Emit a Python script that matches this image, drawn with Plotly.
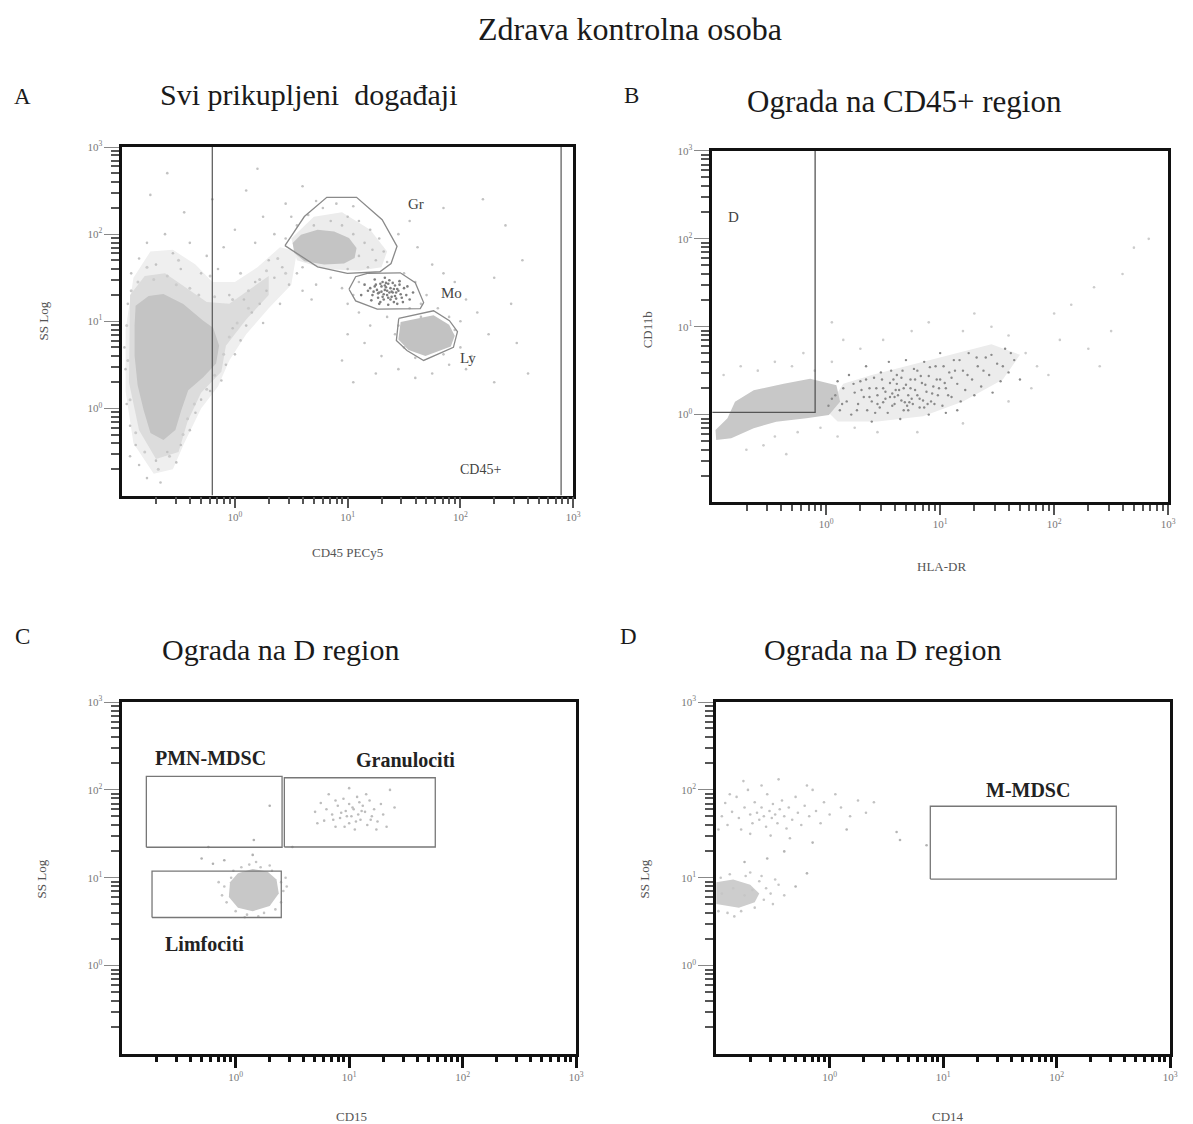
import plotly.graph_objects as go

W, H = 1193, 1124
SERIF = "Liberation Serif"

# ---------------------------------------------------------------- data (log10 units)
# Panel A: CD45 PECy5 vs SS Log, all collected events
a_debris_core = [(-0.881, 1.177), (-0.766, 1.291), (-0.634, 1.313), (-0.458, 1.199), (-0.281, 1.006),
                 (-0.193, 0.926), (-0.140, 0.721), (-0.167, 0.516), (-0.281, 0.356), (-0.414, 0.208),
                 (-0.475, -0.020), (-0.528, -0.248), (-0.634, -0.362), (-0.749, -0.282), (-0.810, -0.020),
                 (-0.863, 0.265), (-0.890, 0.607), (-0.890, 0.949)]
a_debris_mid = [(-0.93, 1.30), (-0.80, 1.52), (-0.62, 1.55), (-0.45, 1.40), (-0.25, 1.22), (-0.05, 1.20),
                (0.15, 1.38), (0.30, 1.52), (0.30, 1.30), (0.10, 1.02), (-0.08, 0.72), (-0.12, 0.42),
                (-0.30, 0.18), (-0.42, -0.15), (-0.50, -0.50), (-0.70, -0.58), (-0.85, -0.25),
                (-0.94, 0.30)]
a_debris_halo = [(-0.72, -0.75), (-0.90, -0.40), (-0.97, 0.20), (-0.97, 0.90), (-0.90, 1.50), (-0.75, 1.80),
                 (-0.55, 1.82), (-0.35, 1.65), (-0.20, 1.45), (0.00, 1.45), (0.20, 1.62), (0.40, 1.85),
                 (0.55, 1.80), (0.50, 1.42), (0.30, 1.15), (0.10, 0.85), (-0.05, 0.55), (-0.15, 0.25),
                 (-0.30, 0.00), (-0.45, -0.40), (-0.55, -0.70)]
a_gr_core = [(0.512, 1.898), (0.586, 1.994), (0.733, 2.051), (0.880, 2.031), (1.012, 1.955), (1.079, 1.841),
             (1.062, 1.727), (0.968, 1.663), (0.792, 1.652), (0.616, 1.689), (0.527, 1.784)]
a_gr_halo = [(0.50, 1.95), (0.70, 2.20), (0.95, 2.25), (1.20, 2.05), (1.35, 1.80), (1.30, 1.62),
             (1.10, 1.58), (0.80, 1.60), (0.55, 1.70)]
a_ly_core = [(1.470, 0.990), (1.762, 1.070), (1.900, 0.960), (1.950, 0.835), (1.915, 0.710),
             (1.690, 0.600), (1.540, 0.670), (1.450, 0.790)]
a_mo_events = [(1.20, 1.38), (1.25, 1.42), (1.28, 1.33), (1.30, 1.40), (1.33, 1.36), (1.35, 1.30), (1.38, 1.38),
               (1.40, 1.33), (1.42, 1.41), (1.45, 1.35), (1.22, 1.30), (1.27, 1.27), (1.31, 1.45), (1.36, 1.43),
               (1.39, 1.28), (1.43, 1.26), (1.47, 1.31), (1.50, 1.38), (1.18, 1.35), (1.24, 1.48), (1.29, 1.22),
               (1.34, 1.39), (1.37, 1.47), (1.41, 1.22), (1.46, 1.42), (1.52, 1.30), (1.55, 1.25), (1.15, 1.42),
               (1.26, 1.36), (1.32, 1.31), (1.38, 1.25), (1.44, 1.37), (1.49, 1.22), (1.30, 1.34), (1.35, 1.35),
               (1.40, 1.44), (1.28, 1.20), (1.33, 1.50), (1.42, 1.29), (1.58, 1.33), (1.12, 1.30), (1.21, 1.24),
               (1.36, 1.19), (1.46, 1.46), (1.53, 1.40), (1.31, 1.28), (1.39, 1.34), (1.24, 1.40), (1.44, 1.20),
               (1.34, 1.44), (1.27, 1.32), (1.32, 1.25), (1.37, 1.33), (1.41, 1.37), (1.29, 1.43), (1.36, 1.27),
               (1.43, 1.33), (1.23, 1.34), (1.48, 1.27), (1.33, 1.41)]
a_halo_events = [(-0.92, 1.35), (-0.86, 1.45), (-0.72, 1.48), (-0.60, 1.52), (-0.52, 1.42), (-0.40, 1.38),
                 (-0.32, 1.30), (-0.18, 1.28), (-0.02, 1.25), (0.12, 1.35), (0.22, 1.48), (0.38, 1.72),
                 (0.45, 1.55), (0.12, 1.15), (0.02, 0.98), (-0.05, 0.82), (-0.10, 0.62), (-0.18, 0.38),
                 (-0.25, 0.22), (-0.36, 0.05), (-0.42, -0.12), (-0.46, -0.30), (-0.58, -0.55), (-0.68, -0.70),
                 (-0.80, -0.50), (-0.88, -0.28), (-0.93, 0.10), (-0.95, 0.55), (-0.96, 0.95), (-0.78, 1.62),
                 (-0.50, 1.70), (-0.22, 1.52), (0.05, 1.55), (0.28, 1.58)]
a_sparse_events = [
    (-0.93, -0.55), (-0.85, -0.65), (-0.78, -0.80), (-0.70, -0.60), (-0.66, -0.85), (-0.60, -0.50),
    (-0.52, -0.62), (-0.48, -0.42), (-0.40, -0.25), (-0.35, -0.05), (-0.30, 0.10), (-0.22, 0.20),
    (-0.12, 0.32), (-0.08, 0.50), (0.00, 0.62), (0.05, 0.78), (-0.02, 0.92), (0.10, 0.95), (0.15, 1.10),
    (0.08, 1.25), (0.22, 1.20), (0.28, 1.35), (0.18, 1.45), (0.35, 1.50), (0.42, 1.62), (0.30, 1.70),
    (0.48, 1.42), (0.55, 1.55), (0.60, 1.35), (0.72, 1.42), (0.85, 1.50), (0.95, 1.38), (0.68, 1.25),
    (0.40, 1.20), (0.25, 0.98),
    (-0.95, 1.20), (-0.92, 1.55), (-0.85, 1.72), (-0.78, 1.90), (-0.70, 1.65), (-0.62, 2.00), (-0.55, 1.78),
    (-0.48, 1.60), (-0.40, 1.90), (-0.30, 1.55), (-0.25, 1.75), (-0.15, 1.60), (-0.10, 1.85), (-0.05, 1.30),
    (0.00, 2.05), (-0.45, 2.25), (-0.75, 2.45), (-0.20, 2.40), (0.10, 2.50), (0.25, 2.20), (0.18, 1.90),
    (0.35, 2.00), (0.45, 2.35), (0.60, 2.55), (-0.60, 2.70), (0.20, 2.75),
    (-0.97, 0.45), (-0.96, 0.05), (-0.93, -0.20), (-0.98, 0.70), (-0.88, -0.42),
    (1.45, 2.00), (1.55, 2.15), (1.62, 1.85), (1.75, 1.65), (1.85, 1.55), (1.95, 1.45), (2.05, 1.25),
    (2.15, 1.10), (2.00, 1.00), (2.25, 0.85), (2.10, 0.60), (1.50, 1.55), (1.70, 1.30), (1.80, 1.15),
    (1.65, 1.05), (1.35, 1.05), (1.20, 0.95), (1.10, 1.10), (1.00, 0.85), (1.15, 0.75), (1.30, 0.60),
    (1.25, 0.40), (1.45, 0.45), (1.60, 0.35), (1.75, 0.40), (1.90, 0.50), (2.05, 0.45), (2.30, 1.50),
    (2.45, 1.20), (2.55, 1.70), (2.40, 2.10), (1.85, 2.30), (2.20, 2.40), (0.95, 0.55), (1.05, 0.30),
    (2.30, 0.30), (2.50, 0.75), (2.60, 0.40),
    (0.55, 2.10), (0.65, 2.22), (0.78, 2.30), (0.90, 2.35), (1.00, 2.20), (1.10, 2.15), (1.20, 2.05),
    (1.28, 1.95), (1.32, 1.80), (1.25, 1.70), (1.18, 1.62), (1.15, 1.90), (1.05, 2.00), (0.95, 2.10),
    (0.85, 2.15), (0.70, 2.10), (1.35, 1.68), (1.22, 1.82), (1.10, 1.75), (0.60, 1.62), (1.00, 1.60),
    (0.45, 1.95), (0.50, 2.20), (0.72, 2.38), (1.05, 2.32),
    (1.05, 1.30), (1.10, 1.45), (1.60, 1.45), (1.65, 1.20), (1.55, 1.15), (1.00, 1.20),
    (1.45, 0.95), (1.50, 0.70), (1.85, 0.62), (1.95, 0.90), (1.90, 1.05), (1.60, 0.58), (2.00, 0.70),
    (1.42, 0.85)]
a_cd45_gate = [0.63, 782.0]           # vertical thresholds (linear units)
a_gr_gate = [(0.444, 1.868), (0.616, 2.202), (0.815, 2.422), (1.079, 2.422), (1.306, 2.165), (1.438, 1.860),
             (1.385, 1.663), (1.286, 1.568), (0.997, 1.549), (0.733, 1.624)]
a_mo_gate = [(1.012, 1.367), (1.071, 1.511), (1.174, 1.549), (1.467, 1.556), (1.600, 1.442), (1.674, 1.214),
             (1.644, 1.146), (1.262, 1.139), (1.071, 1.234)]
a_ly_gate = [(1.453, 1.032), (1.762, 1.120), (1.903, 1.006), (1.974, 0.880), (1.938, 0.701), (1.674, 0.550),
             (1.526, 0.664), (1.432, 0.778)]

# Panel B: HLA-DR vs CD11b, CD45+ events
b_low_core = [(-0.800, 0.145), (-0.636, 0.277), (-0.372, 0.352), (-0.141, 0.409), (0.090, 0.333),
              (0.122, 0.145), (0.024, -0.006), (-0.174, -0.043), (-0.438, -0.081), (-0.636, -0.156),
              (-0.833, -0.269), (-0.965, -0.288), (-0.971, -0.175), (-0.866, -0.043)]
b_band = [(0.00, 0.05), (0.15, 0.35), (0.40, 0.45), (0.70, 0.55), (1.10, 0.68), (1.45, 0.80), (1.70, 0.68),
          (1.55, 0.40), (1.20, 0.15), (0.85, -0.02), (0.45, -0.08), (0.10, -0.08)]
b_dark_events = [
    (0.02, 0.10), (0.08, 0.22), (0.12, 0.05), (0.15, 0.30), (0.18, 0.15), (0.22, 0.00), (0.25, 0.25),
    (0.28, 0.12), (0.30, 0.38), (0.33, 0.20), (0.36, 0.05), (0.38, 0.30), (0.40, 0.15), (0.42, 0.42),
    (0.45, 0.22), (0.47, 0.08), (0.50, 0.30), (0.52, 0.18), (0.54, 0.02), (0.56, 0.36), (0.58, 0.24),
    (0.60, 0.12), (0.62, 0.45), (0.64, 0.28), (0.66, 0.16), (0.68, 0.05), (0.70, 0.34), (0.72, 0.22),
    (0.74, 0.40), (0.76, 0.12), (0.78, 0.28), (0.80, 0.50), (0.82, 0.18), (0.84, 0.36), (0.86, 0.08),
    (0.88, 0.26), (0.90, 0.44), (0.92, 0.15), (0.94, 0.32), (0.96, 0.55), (0.98, 0.22), (1.00, 0.40),
    (1.02, 0.10), (1.05, 0.30), (1.08, 0.48), (1.10, 0.20), (1.12, 0.62), (1.15, 0.35), (1.18, 0.15),
    (1.20, 0.50), (1.22, 0.28), (1.25, 0.70), (1.28, 0.40), (1.30, 0.22), (1.33, 0.55), (1.36, 0.32),
    (1.40, 0.65), (1.43, 0.45), (1.46, 0.25), (1.50, 0.58), (1.53, 0.38), (1.57, 0.75), (1.60, 0.48),
    (1.65, 0.62), (1.70, 0.40), (0.55, 0.60), (0.70, 0.62), (0.35, 0.55), (0.20, 0.45), (0.10, 0.38),
    (0.48, 0.48), (0.86, 0.60), (1.00, 0.70), (0.65, -0.05), (0.90, 0.00), (0.40, -0.08), (1.15, 0.05),
    (0.60, 0.20), (0.75, 0.18), (0.52, 0.26), (0.68, 0.30), (0.82, 0.08), (0.45, 0.12), (0.58, 0.10),
    (0.72, 0.05), (0.95, 0.12), (0.62, 0.35), (0.78, 0.40), (0.50, 0.14), (0.56, 0.20), (0.63, 0.22),
    (0.69, 0.14), (0.74, 0.30), (0.80, 0.22), (0.87, 0.34), (0.93, 0.24), (1.04, 0.36), (1.10, 0.42),
    (0.44, 0.30), (0.38, 0.20), (0.31, 0.28), (0.59, 0.40), (0.66, 0.42), (0.71, 0.10), (0.85, 0.16),
    (0.05, 0.18), (0.14, 0.12), (0.24, 0.35), (0.27, 0.05), (0.35, 0.40), (0.43, 0.02), (0.49, 0.40),
    (0.57, 0.50), (0.61, 0.28), (0.67, 0.50), (0.73, 0.14), (0.77, 0.52), (0.83, 0.44), (0.89, 0.12),
    (0.91, 0.54), (0.97, 0.40), (1.03, 0.55), (1.07, 0.22), (1.13, 0.50), (1.17, 0.62), (1.24, 0.45),
    (1.32, 0.65), (1.38, 0.50), (1.45, 0.68), (1.55, 0.55), (1.62, 0.70), (1.05, 0.02), (0.99, 0.30)]
b_light_events = [
    (-0.90, 0.45), (-0.75, 0.55), (-0.60, 0.50), (-0.45, 0.60), (-0.30, 0.55), (-0.20, 0.70), (-0.10, 0.50),
    (0.05, 0.60), (0.15, 0.85), (0.05, 1.05), (0.30, 0.75), (0.50, 0.85), (0.75, 0.95), (0.90, 1.05),
    (1.20, 0.95), (1.45, 1.00), (1.60, 0.90), (1.75, 0.70), (1.85, 0.55), (1.95, 0.45), (2.00, 1.15),
    (2.05, 0.85), (2.15, 1.25), (2.30, 0.75), (2.35, 1.45), (2.50, 0.95), (2.60, 1.60), (2.70, 1.90),
    (2.83, 2.00), (2.40, 0.55), (1.30, 1.15), (0.00, 0.30), (-0.05, -0.15), (-0.25, -0.20), (-0.45, -0.25),
    (0.25, -0.15), (0.10, -0.25), (-0.70, -0.40), (-0.55, -0.35), (-0.35, -0.45), (0.45, -0.20),
    (0.80, -0.20), (1.20, -0.10), (1.60, 0.15), (1.80, 0.30)]
b_d_gate = {"x": [0.1, 0.8, 0.8], "y": [1.06, 1.06, 1000.0]}   # linear units

# Panel C: CD15 vs SS Log, D region
c_ly_core = [(-0.05, 0.95), (0.02, 1.05), (0.15, 1.10), (0.28, 1.07), (0.36, 0.98), (0.38, 0.82),
             (0.30, 0.68), (0.15, 0.62), (0.02, 0.66), (-0.06, 0.78)]
c_ly_events = [(-0.10, 0.90), (-0.08, 0.72), (-0.02, 1.08), (0.05, 1.12), (0.12, 1.15), (0.22, 1.12),
               (0.32, 1.08), (0.40, 0.95), (0.42, 0.85), (0.40, 0.72), (0.35, 0.64), (0.25, 0.60),
               (0.10, 0.58), (0.00, 0.62), (-0.12, 0.80), (0.45, 0.90), (0.18, 1.18), (-0.15, 0.95),
               (0.30, 1.14), (0.44, 1.00), (0.08, 0.55), (-0.04, 1.00), (0.20, 0.56)]
c_gr_events = [(0.70, 1.75), (0.75, 1.85), (0.78, 1.65), (0.82, 1.95), (0.85, 1.72), (0.88, 1.58),
               (0.90, 1.82), (0.92, 1.68), (0.95, 1.90), (0.97, 1.76), (1.00, 1.62), (1.00, 1.84),
               (1.02, 1.70), (1.04, 1.78), (1.05, 1.55), (1.07, 1.92), (1.08, 1.72), (1.10, 1.66),
               (1.12, 1.82), (1.14, 1.75), (1.16, 1.60), (1.18, 1.88), (1.20, 1.70), (1.22, 1.78),
               (1.25, 1.64), (1.28, 1.84), (1.30, 1.72), (1.33, 1.58), (1.36, 2.00), (0.80, 1.78),
               (0.93, 1.74), (0.98, 1.70), (1.03, 1.80), (1.06, 1.64), (1.11, 1.76), (0.88, 1.88),
               (1.15, 1.95), (1.24, 1.55), (0.72, 1.62), (1.40, 1.80), (1.00, 2.02), (0.86, 1.66),
               (1.19, 1.66), (0.96, 1.58), (1.09, 1.86)]
c_stray_events = [(0.30, 1.82), (0.16, 1.43), (-0.24, 1.35), (-0.30, 1.22), (-0.20, 1.16), (0.50, 1.35),
                  (0.15, 1.26), (-0.10, 1.20)]
c_pmn_gate = [-0.787, 0.409, 1.347, 2.153]      # x0, x1, y0, y1 (log10)
c_gran_gate = [0.429, 1.759, 1.350, 2.138]
c_ly_gate = [-0.737, 0.402, 0.548, 1.076]

# Panel D: CD14 vs SS Log, D region
d_ly_core = [(-1.00, 0.95), (-0.85, 0.98), (-0.70, 0.92), (-0.62, 0.82), (-0.66, 0.72), (-0.80, 0.66),
             (-1.00, 0.70)]
d_ly_events = [(-0.98, 0.62), (-0.90, 0.60), (-0.78, 0.62), (-0.66, 0.66), (-0.58, 0.75), (-0.56, 0.88),
               (-0.62, 0.96), (-0.74, 1.02), (-0.88, 1.04), (-0.96, 1.00), (-0.52, 0.82), (-0.50, 0.70),
               (-0.45, 0.92), (-0.40, 0.80), (-0.70, 1.06), (-0.84, 0.56), (-0.60, 1.02), (-0.48, 0.98),
               (-0.95, 0.82), (-0.75, 0.80), (-0.85, 0.88), (-0.68, 0.86)]
d_gr_events = [(-0.95, 1.70), (-0.92, 1.85), (-0.90, 1.60), (-0.86, 1.75), (-0.82, 1.92), (-0.80, 1.68),
               (-0.78, 1.55), (-0.75, 1.80), (-0.72, 2.00), (-0.70, 1.72), (-0.68, 1.62), (-0.66, 1.86),
               (-0.64, 1.74), (-0.62, 1.66), (-0.60, 1.80), (-0.58, 1.70), (-0.56, 1.58), (-0.55, 1.95),
               (-0.53, 1.76), (-0.51, 1.68), (-0.50, 1.84), (-0.48, 1.72), (-0.46, 1.62), (-0.44, 1.78),
               (-0.42, 1.88), (-0.40, 1.70), (-0.38, 1.56), (-0.36, 1.80), (-0.33, 1.66), (-0.30, 1.92),
               (-0.28, 1.74), (-0.25, 1.60), (-0.22, 1.82), (-0.18, 1.70), (-0.15, 2.00), (-0.12, 1.76),
               (-0.08, 1.62), (-0.05, 1.86), (0.00, 1.72), (0.05, 1.95), (0.10, 1.80), (0.18, 1.70),
               (0.25, 1.88), (0.32, 1.74), (0.39, 1.86), (-0.88, 1.95), (-0.76, 2.10), (-0.60, 2.05),
               (-0.45, 2.12), (-0.20, 2.05), (-0.98, 1.55), (-0.70, 1.50), (-0.52, 1.48), (-0.35, 1.45)]
d_stray_events = [(0.59, 1.52), (0.62, 1.43), (0.854, 1.37), (0.15, 1.55), (-0.15, 1.40), (-0.40, 1.30),
                  (-0.55, 1.22), (-0.75, 1.18), (-0.30, 0.90), (-0.20, 1.05)]
d_mmdsc_gate = [0.887, 2.526, 0.985, 1.814]

# tick labels
tick_vals = [1, 10, 100, 1000]
tick_text = ["10<sup>0</sup>", "10<sup>1</sup>", "10<sup>2</sup>", "10<sup>3</sup>"]
minor_vals = [m * 10.0 ** k for k in range(-1, 3) for m in range(2, 10)]

# ---------------------------------------------------------------- helpers
def lin(pairs):
    xs = [10 ** p[0] for p in pairs]
    ys = [10 ** p[1] for p in pairs]
    return xs, ys


def closed(pairs):
    xs, ys = lin(pairs)
    return xs + xs[:1], ys + ys[:1]


def rect(g):
    x0, x1, y0, y1 = g
    return closed([(x0, y0), (x1, y0), (x1, y1), (x0, y1)])


def px(x):
    return x / W


def py(y):
    return 1 - y / H


fig = go.Figure()
AX = {"A": ("x", "y"), "A2": ("x5", "y"), "B": ("x2", "y2"), "C": ("x3", "y3"), "D": ("x4", "y4")}


def blob(panel, pairs, color):
    xs, ys = closed(pairs)
    fig.add_trace(go.Scatter(x=xs, y=ys, xaxis=AX[panel][0], yaxis=AX[panel][1], mode="lines",
                             fill="toself", fillcolor=color, line=dict(width=0), hoverinfo="skip"))


def dots(panel, pairs, color, size=2.6):
    xs, ys = lin(pairs)
    fig.add_trace(go.Scatter(x=xs, y=ys, xaxis=AX[panel][0], yaxis=AX[panel][1], mode="markers",
                             marker=dict(size=size, color=color, symbol="circle", line=dict(width=0)),
                             hoverinfo="skip"))


def gate(panel, xs, ys, color="#6a6a6a", width=1.2):
    fig.add_trace(go.Scatter(x=xs, y=ys, xaxis=AX[panel][0], yaxis=AX[panel][1], mode="lines",
                             line=dict(color=color, width=width), hoverinfo="skip"))


# ---------------------------------------------------------------- panel A
blob("A", a_debris_halo, "#efefef")
blob("A", a_debris_mid, "#dcdcdc")
blob("A", a_debris_core, "#c4c4c4")
blob("A", a_gr_halo, "#ececec")
blob("A", a_gr_core, "#c4c4c4")
blob("A", a_ly_core, "#c2c2c2")
dots("A", a_halo_events, "#cbcbcb", size=3)
dots("A", a_sparse_events, "#c2c2c2")
dots("A", a_mo_events, "#7e7e7e")
for g in (a_gr_gate, a_mo_gate, a_ly_gate):
    gx, gy = closed(g)
    gate("A", gx, gy, color="#8a8a8a", width=1.3)
# CD45 threshold lines live on an overlaid copy of the x axis that carries the bottom ticks
for v in a_cd45_gate:
    gate("A2", [v, v], [0.1, 1000.0], color="#555555", width=1.2)

# ---------------------------------------------------------------- panel B
dots("B", b_light_events, "#cccccc")
blob("B", b_band, "#ececec")
blob("B", b_low_core, "#c8c8c8")
dots("B", b_dark_events, "#8a8a8a", size=2.4)
gate("B", b_d_gate["x"], b_d_gate["y"], color="#555555", width=1.3)

# ---------------------------------------------------------------- panel C
blob("C", c_ly_core, "#c8c8c8")
dots("C", c_ly_events, "#c4c4c4")
dots("C", c_gr_events, "#bdbdbd")
dots("C", c_stray_events, "#b0b0b0")
for g in (c_pmn_gate, c_gran_gate, c_ly_gate):
    gx, gy = rect(g)
    gate("C", gx, gy, color="#777777", width=1.3)

# ---------------------------------------------------------------- panel D
blob("D", d_ly_core, "#cdcdcd")
dots("D", d_ly_events, "#c6c6c6")
dots("D", d_gr_events, "#c2c2c2")
dots("D", d_stray_events, "#b4b4b4")
gx, gy = rect(d_mmdsc_gate)
gate("D", gx, gy, color="#777777", width=1.3)

# ---------------------------------------------------------------- axes
def xaxis(dom, anchor, heavy):
    return dict(type="log", range=[-1, 3], domain=dom, anchor=anchor, showgrid=False, zeroline=False,
                showline=True, linecolor="#111", linewidth=2.5, mirror=True, layer="above traces",
                ticks="outside", tickvals=tick_vals, ticktext=tick_text,
                ticklen=12 if heavy else 10, tickwidth=3 if heavy else 2,
                tickcolor="#111" if heavy else "#555",
                tickfont=dict(family=SERIF, size=11, color="#777"),
                minor=dict(tickvals=minor_vals, ticks="outside", ticklen=6,
                           tickwidth=3 if heavy else 2, tickcolor="#111" if heavy else "#555"))


def yaxis(dom, anchor):
    return dict(type="log", range=[-1, 3], domain=dom, anchor=anchor, showgrid=False, zeroline=False,
                showline=True, linecolor="#111", linewidth=2.5, mirror=True, layer="above traces",
                ticks="outside", tickvals=tick_vals, ticktext=tick_text, ticklen=15, tickwidth=1.2,
                tickcolor="#888", tickfont=dict(family=SERIF, size=11, color="#777"),
                minor=dict(tickvals=minor_vals, ticks="outside", ticklen=8, tickwidth=1.5, tickcolor="#555"))


a_tick_axis = xaxis([px(123), px(577)], "y", False)
a_tick_axis.update(overlaying="x", side="bottom", showticklabels=False, showline=False, mirror=False)

fig.update_layout(
    width=W, height=H, margin=dict(l=0, r=0, t=0, b=0),
    paper_bgcolor="white", plot_bgcolor="white", showlegend=False,
    xaxis=xaxis([px(123), px(577)], "y", False),
    yaxis=yaxis([py(491), py(140)], "x"),
    xaxis2=xaxis([px(717), px(1176)], "y2", False),
    yaxis2=yaxis([py(498), py(144)], "x2"),
    xaxis3=xaxis([px(123), px(580)], "y3", True),
    yaxis3=yaxis([py(1053), py(699)], "x3"),
    xaxis4=xaxis([px(721), px(1178)], "y4", True),
    yaxis4=yaxis([py(1053), py(699)], "x4"),
    xaxis5=a_tick_axis,
)

# ---------------------------------------------------------------- text
def text(s, x, y, size, color="#222", angle=0, bold=False):
    fig.add_annotation(x=px(x), y=py(y), xref="paper", yref="paper", text=f"<b>{s}</b>" if bold else s,
                       showarrow=False, textangle=angle, xanchor="center", yanchor="middle",
                       font=dict(family=SERIF, size=size, color=color))


text("Zdrava kontrolna osoba", 634, 21, 32, "#1a1a1a")
text("A", 23, 89, 23, "#1a1a1a")
text("B", 636, 88, 23, "#1a1a1a")
text("C", 23, 633, 23, "#1a1a1a")
text("D", 633, 633, 23, "#1a1a1a")
text("Svi prikupljeni&nbsp; događaji", 311, 87, 30, "#1a1a1a")
text("Ograda na CD45+ region", 911, 94, 31, "#1a1a1a")
text("Ograda na D region", 282, 646, 30, "#1a1a1a")
text("Ograda na D region", 888, 646, 30, "#1a1a1a")

text("SS Log", 44, 315, 13, "#555", angle=-90)
text("CD45 PECy5", 350, 548, 13, "#555")
text("CD11b", 652, 324, 13, "#555", angle=-90)
text("HLA-DR", 948, 562, 13, "#555")
text("SS Log", 42, 877, 13, "#555", angle=-90)
text("CD15", 354, 1116, 13, "#555")
text("SS Log", 649, 877, 13, "#555", angle=-90)
text("CD14", 954, 1116, 13, "#555")

text("Gr", 419, 197, 15, "#444")
text("Mo", 455, 287, 15, "#444")
text("Ly", 471, 353, 15, "#444")
text("CD45+", 484, 465, 14, "#444")
text("D", 738, 211, 15, "#444")

text("PMN-MDSC", 212, 755, 20, "#222", bold=True)
text("Granulociti", 408, 757, 20, "#222", bold=True)
text("Limfociti", 206, 943, 20, "#222", bold=True)
text("M-MDSC", 1035, 788, 20, "#222", bold=True)

fig.write_html("out.html")
